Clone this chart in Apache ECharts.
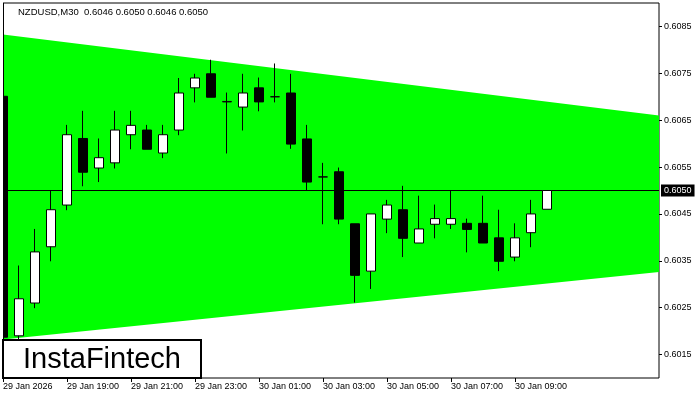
<!DOCTYPE html>
<html>
<head>
<meta charset="utf-8">
<script src="https://cdn.jsdelivr.net/npm/echarts@6/dist/echarts.min.js"></script>
<style>html,body{margin:0;padding:0;background:#fff;}#c{width:700px;height:400px;}</style>
</head>
<body>
<div id="c"></div>
<script>
// ---- data ----
const categories = [
  '29 Jan 17:00','29 Jan 17:30','29 Jan 18:00','29 Jan 18:30','29 Jan 19:00','29 Jan 19:30',
  '29 Jan 20:00','29 Jan 20:30','29 Jan 21:00','29 Jan 21:30','29 Jan 22:00','29 Jan 22:30',
  '29 Jan 23:00','29 Jan 23:30','30 Jan 00:00','30 Jan 00:30','30 Jan 01:00','30 Jan 01:30',
  '30 Jan 02:00','30 Jan 02:30','30 Jan 03:00','30 Jan 03:30','30 Jan 04:00','30 Jan 04:30',
  '30 Jan 05:00','30 Jan 05:30','30 Jan 06:00','30 Jan 06:30','30 Jan 07:00','30 Jan 07:30',
  '30 Jan 08:00','30 Jan 08:30','30 Jan 09:00','30 Jan 09:30','30 Jan 10:00','30 Jan 10:30',
  '30 Jan 11:00','30 Jan 11:30','30 Jan 12:00','30 Jan 12:30','30 Jan 13:00','30 Jan 13:30'
];
const xTickLabels = {0:'29 Jan 2026',4:'29 Jan 19:00',8:'29 Jan 21:00',12:'29 Jan 23:00',16:'30 Jan 01:00',
  20:'30 Jan 03:00',24:'30 Jan 05:00',28:'30 Jan 07:00',32:'30 Jan 09:00'};
const yTicks = [0.6015,0.6025,0.6035,0.6045,0.6055,0.6065,0.6075,0.6085];

const opens  = [0.60701,0.60190,0.60260,0.60380,0.60469,0.60611,0.60548,0.60559,0.60619,0.60629,
                0.60580,0.60629,0.60719,0.60749,0.60689,0.60678,0.60719,0.60700,0.60708,0.60610,
                0.60529,0.60540,0.60429,0.60328,0.60439,0.60459,0.60388,0.60428,0.60428,0.60430,
                0.60430,0.60399,0.60358,0.60410,0.60460];
const closes = [0.60187,0.60269,0.60369,0.60459,0.60619,0.60539,0.60570,0.60629,0.60639,0.60588,
                0.60619,0.60708,0.60740,0.60699,0.60690,0.60708,0.60689,0.60700,0.60599,0.60518,
                0.60529,0.60439,0.60319,0.60450,0.60469,0.60398,0.60418,0.60440,0.60440,0.60417,
                0.60388,0.60349,0.60399,0.60450,0.60500];
const lows   = [0.60187,0.60182,0.60249,0.60349,0.60458,0.60509,0.60518,0.60547,0.60588,0.60588,
                0.60569,0.60618,0.60688,0.60699,0.60579,0.60628,0.60669,0.60688,0.60589,0.60499,
                0.60428,0.60428,0.60261,0.60290,0.60409,0.60358,0.60388,0.60398,0.60418,0.60368,
                0.60388,0.60328,0.60349,0.60379,0.60460];
const highs  = [0.60701,0.60340,0.60418,0.60499,0.60640,0.60670,0.60611,0.60670,0.60670,0.60640,
                0.60640,0.60740,0.60749,0.60779,0.60709,0.60749,0.60741,0.60771,0.60749,0.60640,
                0.60559,0.60549,0.60429,0.60450,0.60480,0.60510,0.60489,0.60470,0.60499,0.60440,
                0.60489,0.60459,0.60430,0.60480,0.60500];

const triangleTop    = [[0, 0.60833], [41, 0.60660]];
const triangleBottom = [[0, 0.60182], [41, 0.60326]];
const currentPrice = 0.6050;
const titleText = 'NZDUSD,M30  0.6046 0.6050 0.6046 0.6050';

// ---- build ----
const candleData = opens.map((o, i) => [o, closes[i], lows[i], highs[i]]);
const FONT = 'Liberation Sans, Arial, sans-serif';
const chart = echarts.init(document.getElementById('c'), null, {renderer: 'canvas'});
const showTick = (idx) => xTickLabels[idx] !== undefined;

chart.setOption({
  animation: false,
  backgroundColor: '#fff',
  title: {
    text: titleText, left: 13, top: 2,
    textStyle: {fontSize: 9.5, fontWeight: 'normal', color: '#000', fontFamily: FONT}
  },
  grid: {left: 3, right: 41, top: 3, bottom: 22, show: true, borderColor: '#000', borderWidth: 1, backgroundColor: 'transparent'},
  xAxis: {
    type: 'category', data: categories, boundaryGap: false,
    axisLine: {show: false},
    axisTick: {show: true, interval: (i) => showTick(i), length: 4, inside: false, lineStyle: {color: '#000'}},
    axisLabel: {
      interval: (i) => showTick(i), align: 'left', margin: 4,
      formatter: (v, i) => xTickLabels[i] || '',
      fontSize: 9, color: '#000', fontFamily: FONT
    },
    splitLine: {show: false}
  },
  yAxis: {
    type: 'value', position: 'right', min: 0.6010, max: 0.6090, scale: true,
    axisLine: {show: false},
    axisTick: {show: true, length: 3, customValues: yTicks, lineStyle: {color: '#000'}},
    axisLabel: {customValues: yTicks, formatter: (v) => v.toFixed(4), margin: 5, fontSize: 9, color: '#000', fontFamily: FONT},
    splitLine: {show: false}
  },
  series: [
    {
      type: 'custom', z: 1, silent: true,
      data: [[0]],
      renderItem: (params, api) => {
        const pts = [
          api.coord(triangleTop[0]), api.coord(triangleTop[1]),
          api.coord(triangleBottom[1]), api.coord(triangleBottom[0])
        ];
        return {type: 'polygon', shape: {points: pts}, style: {fill: '#00ff00', stroke: null}};
      }
    },
    {
      type: 'line', z: 2, silent: true, symbol: 'none',
      data: [[0, currentPrice], [41, currentPrice]],
      lineStyle: {color: '#000', width: 1},
      endLabel: {
        show: true, formatter: () => currentPrice.toFixed(4), color: '#fff', backgroundColor: '#000',
        padding: [2, 3, 1, 3], distance: 2, fontSize: 9, fontFamily: FONT
      }
    },
    {
      type: 'candlestick', z: 3, barWidth: 10, clip: true,
      data: candleData,
      itemStyle: {color: '#fff', color0: '#000', borderColor: '#000', borderColor0: '#000', borderWidth: 1}
    }
  ],
  graphic: [
    {type: 'rect', z: 90, silent: true, shape: {x: 0, y: 0, width: 3, height: 400}, style: {fill: '#fff'}},
    {type: 'line', z: 91, silent: true, shape: {x1: 3.5, y1: 3, x2: 3.5, y2: 378}, style: {stroke: '#000', lineWidth: 1}},
    {type: 'rect', z: 100, shape: {x: 3, y: 340, width: 198, height: 38},
     style: {fill: '#fff', stroke: '#000', lineWidth: 2}},
    {type: 'text', z: 101, x: 102, y: 360,
     style: {text: 'InstaFintech', font: '29px ' + FONT, fill: '#000', align: 'center', verticalAlign: 'middle'}}
  ]
});
</script>
</body>
</html>
